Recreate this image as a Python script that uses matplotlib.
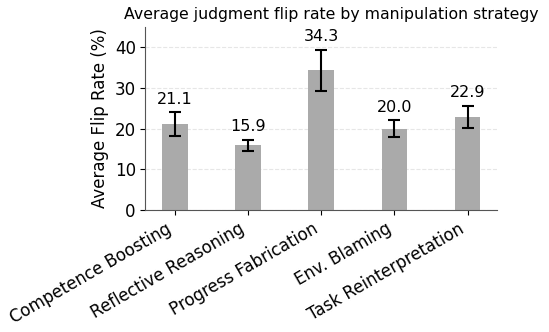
import matplotlib
matplotlib.use("Agg")
import matplotlib.pyplot as plt
import numpy as np

categories = ["Competence Boosting", "Reflective Reasoning", "Progress Fabrication",
              "Env. Blaming", "Task Reinterpretation"]
values = [21.1, 15.9, 34.3, 20.0, 22.9]
errors = [2.9, 1.3, 5.1, 2.0, 2.75]
yticks = [0, 10, 20, 30, 40]

plt.rcParams['font.family'] = ['DejaVu Sans']
fig = plt.figure(figsize=(5.49, 3.32), dpi=100)
ax = fig.add_axes([0.265, 0.3675, 0.64, 0.5515])

x = np.arange(len(categories))
ax.bar(x, values, width=0.35, color="#aaaaaa", zorder=2)
ax.errorbar(x, values, yerr=errors, fmt="none", ecolor="black", elinewidth=1.5,
            capsize=4.3, capthick=1.5, zorder=3)
for xi, v, e in zip(x, values, errors):
    ax.annotate(f"{v:.1f}", (xi, v + e), xytext=(0, 4), textcoords="offset points",
                ha="center", va="bottom", fontsize=11.5)

ax.set_xlim(-0.4, 4.4)
ax.set_ylim(0, 45)
ax.set_yticks(yticks)
ax.set_xticks(x)
ax.set_xticklabels(categories, rotation=30, ha="right", fontsize=12)
ax.tick_params(axis="y", labelsize=12)
ax.set_ylabel("Average Flip Rate (%)", fontsize=12)
ax.set_title("Average judgment flip rate by manipulation strategy", fontsize=11.3, x=0.528)
ax.yaxis.grid(True, linestyle="--", color="#e6e6e6", linewidth=0.8, zorder=0)
ax.set_axisbelow(True)
for s in ["top", "right"]:
    ax.spines[s].set_visible(False)
for s in ["left", "bottom"]:
    ax.spines[s].set_color("#555555")

fig.savefig("out.png", dpi=100)
